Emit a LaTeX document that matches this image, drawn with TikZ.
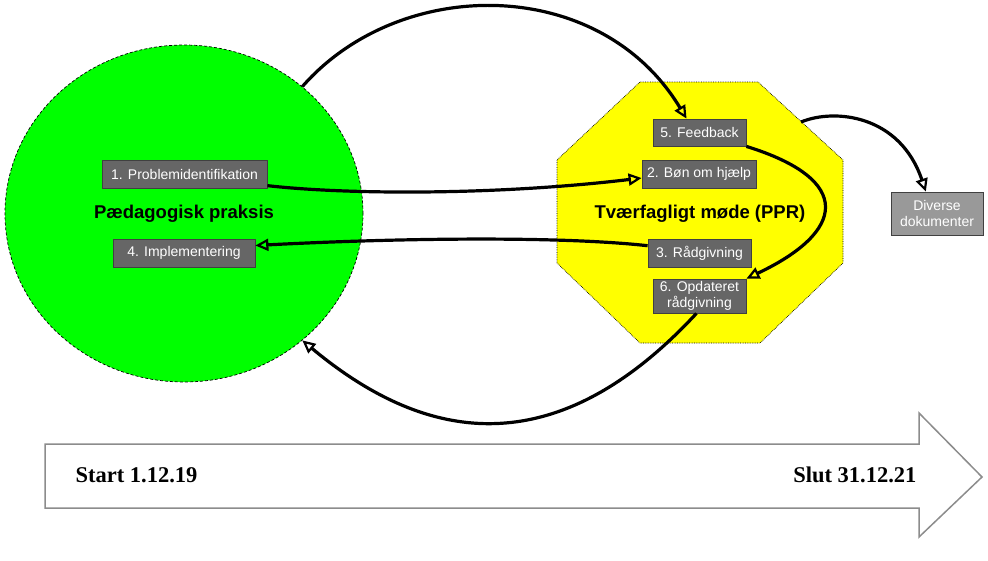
\documentclass[tikz,border=0pt]{standalone}
\usepackage{fontspec}
\setmainfont{Liberation Serif}
\setsansfont{Liberation Sans}
\usetikzlibrary{arrows.meta,shapes.geometric}

\definecolor{boksgraa}{HTML}{666666}
\definecolor{dokgraa}{HTML}{999999}
\definecolor{praksisgroen}{HTML}{00FF00}
\definecolor{pprgul}{HTML}{FFFF00}

\tikzset{
  boks/.style={draw=black!75, fill=boksgraa, text=white, font=\sffamily\fontsize{14}{16.5}\selectfont,
    minimum height=28pt, inner xsep=4pt, inner ysep=2pt, align=center, line width=0.8pt},
  pil/.style={line width=3.2pt, -{Triangle[open, length=13pt, width=12pt, line width=2.2pt]}},
  titel/.style={font=\sffamily\bfseries\fontsize{18.5}{22}\selectfont},
  dato/.style={font=\bfseries\fontsize{22.5}{26}\selectfont}
}

\begin{document}
\begin{tikzpicture}[x=1pt, y=-1pt]
    \useasboundingbox (0,0) rectangle (988,560);

    % Pædagogisk praksis
    \node[ellipse, draw, densely dashed, line width=0.7pt, fill=praksisgroen, minimum width=358pt, minimum height=337pt] (praksis) at (184,213.5) {};
    \node[titel] (praksistitel) at (184,214) {Pædagogisk praksis};
    \node[boks, minimum width=165pt] (problem) at (184.5,174) {1. Problemidentifikation};
    \node[boks, minimum width=142pt] (impl) at (184,253) {4. Implementering};

    % Tværfagligt møde
    \draw[densely dotted, line width=0.7pt, fill=pprgul] (640,82) -- (758,82) -- (843,160) -- (843,263) -- (760,343)
        -- (640,343) -- (557,263) -- (557,160) -- cycle;
    \coordinate (pprhjoerne) at (801,122);
    \node[titel] (pprtitel) at (700,214) {Tværfagligt møde (PPR)};
    \node[boks, minimum width=93pt, minimum height=27pt] (feedback) at (699.5,132.5) {5. Feedback};
    \node[boks, minimum width=114pt] (bon) at (699,174) {2. Bøn om hjælp};
    \node[boks, minimum width=103pt] (raad) at (699.5,253) {3. Rådgivning};
    \node[boks, minimum width=93pt, minimum height=34pt, inner ysep=1pt, font=\sffamily\fontsize{14}{16}\selectfont] (opdat) at (699.5,296) {6. Opdateret\\rådgivning};

    % Dokumenter
    \node[boks, fill=dokgraa, minimum width=92pt, minimum height=43pt, font=\sffamily\fontsize{14}{16}\selectfont] (dok) at (937,213.5) {Diverse\\dokumenter};

    % Pile
    \draw[pil] (praksis.47) .. controls (400,-25) and (600,-25) .. (feedback.133);
    \draw[pil] (problem.-8) .. controls (350,195) and (500,195) .. (bon.184);
    \draw[pil] (raad.172) .. controls (560,236) and (400,238) .. (impl.6);
    \draw[pil] (feedback.south east) .. controls (855,180) and (845,232) .. (opdat.north east);
    \draw[pil] (opdat.-100) .. controls (543,479) and (410,430) .. (praksis.-47);
    \draw[pil] (pprhjoerne) .. controls (835,108) and (900,115) .. (dok.117);

    % Tidslinje
    \draw[draw=black!45, line width=1.5pt, fill=white] (45,444) -- (919,444) -- (919,413) -- (982,477)
        -- (919,537) -- (919,508) -- (45,508) -- cycle;
    \node[dato, anchor=west] (start) at (72,475) {Start 1.12.19};
    \node[dato, anchor=east] (slut) at (920,475) {Slut 31.12.21};
\end{tikzpicture}
\end{document}
